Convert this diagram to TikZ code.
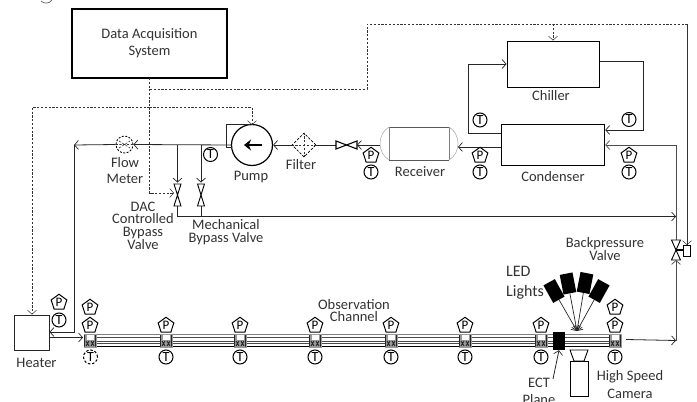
\documentclass[tikz,border=0pt]{standalone}
\usepackage{fontspec}
\setmainfont{Carlito}
\usetikzlibrary{arrows.meta,shapes.geometric,calc}
\tikzset{
  lbl/.style={inner sep=0pt,font=\fontsize{14.5}{15}\selectfont,text=black!80,align=center},
  box/.style={draw,line width=1pt,inner sep=0pt},
  pipe/.style={draw=black!85,line width=.8pt},
  flow/.style={pipe,-{Straight Barb[length=4pt,width=9pt,line width=.7pt]}},
  sig/.style={draw=black!80,line width=.6pt,dash pattern=on 2.2pt off 1.6pt},
  sigflow/.style={sig,-{Straight Barb[length=4pt,width=9pt,line width=.5pt,sep=0pt]}},
  tsens/.style={circle,draw,line width=1pt,inner sep=0pt,minimum size=14pt,font=\fontsize{14}{14}\selectfont},
  psens/.style={regular polygon,regular polygon sides=5,draw,line width=1pt,inner sep=0pt,minimum size=16.5pt,font=\fontsize{13}{13}\selectfont},
  valvepart/.style={draw,line width=.9pt,fill=white},
  led/.style={fill=black,rectangle,inner sep=0pt,minimum width=13pt,minimum height=20pt},
}
\begin{document}
\begin{tikzpicture}[x=1pt,y=-1pt]
\clip (0,0) rectangle (697,402);
\fill[white] (0,0) rectangle (697,402);
% stray descender at the top edge
\draw[black!70,line width=.6pt] (41,1) .. controls (44,4) and (49,4) .. (52,0);
% --- coordinates
\coordinate (daqS) at (149.5,78);
\coordinate (a1) at (149.5,89);
\coordinate (a2) at (367,89);
\coordinate (a3) at (367,24);
\coordinate (a4) at (553,24);
\coordinate (a5) at (687,24);
\coordinate (a6) at (687,245);
\coordinate (b1) at (149.5,107.5);
\coordinate (b2) at (252,107.5);
\coordinate (b3) at (252,125);
\coordinate (b4) at (32,107.5);
\coordinate (c1) at (149.5,193);
\coordinate (c2) at (174,193);
% --- boxes
\node[box,line width=1.5pt,minimum width=155pt,minimum height=69pt,align=center,font=\fontsize{14.5}{17}\selectfont,text=black!80] (daq) at (149.5,43.5) {Data Acquisition\\System};
\node[box,minimum width=92pt,minimum height=46pt] (chiller) at (553,64) {};
\node[box,minimum width=103.5pt,minimum height=41pt] (cond) at (553,144.5) {};
\node[box,draw=black!85,minimum width=35pt,minimum height=35pt] (heater) at (31.5,332.5) {};
\node[circle,draw,line width=1.2pt,minimum size=41pt,inner sep=0pt] (pump) at (252,145) {};
\node[circle,draw,dash pattern=on 2pt off 1.5pt,line width=.8pt,minimum size=17pt,inner sep=0pt] (fm) at (124.5,144.5) {};
\node[diamond,draw,dash pattern=on 2.5pt off 1.5pt,line width=.8pt,minimum size=24pt,inner sep=0pt] (filter) at (304,145) {};
% --- signal lines
\draw[sig] (daqS) -- (a1) -- (a2) -- (a3) -- (a4) -- (a5) -- (a6);
\draw[sigflow] (a5) -- (a6);
\draw[sigflow] (a4) -- (chiller.north -| a4);
\draw[sig] (a1) -- (b1);
\draw[sigflow] (b1) -- (b2) -- (b3);
\draw[sigflow] (b1) -- (b4) -- (heater.north -| b4);
\draw[sigflow] (b1) -- (c1) -- (c2);
% --- flow meter and filter internals
\draw[sig] (fm.west) -- (fm.east) (119,141) -- (130,148) (119,148) -- (130,141);
\draw[sig] (filter.north) -- (filter.south) (filter.west) -- (filter.east);
% --- main loop
\coordinate (m1) at (74,145);
\coordinate (m2) at (74,332);
\draw[flow] (pump.west) -- (fm.east);
\draw[flow] (fm.west) -- (m1);
\draw[flow] (m1) -- (m2) -- (heater.east |- m2);
\coordinate (ch0) at (83,337.5);
\draw[flow] (heater.east |- ch0) -- (ch0);
\draw[pipe] (232,147) -- (226,147) -- (226,124) -- (250,124);
\draw[flow] (filter.west) -- (pump.east);
\draw[-{Stealth[length=7pt,width=11pt]},line width=1.8pt] (262,145) -- (244,145);
% receiver and its valve
\coordinate (rvL) at (336,145);
\coordinate (rvR) at (357,145);
\coordinate (rc) at (346.5,145);
\draw[pipe] (filter.east) -- (rvL);
\draw[valvepart,line width=1.1pt] (336,141) -- (336,149) -- (rc) -- cycle;
\draw[valvepart,line width=1.1pt] (357,141) -- (357,149) -- (rc) -- cycle;
\draw[draw=black!65,line width=.7pt] (389,127) -- (449,127) (389,160) -- (449,160);
\draw[draw=black!50,line width=.8pt] (389,127) -- (389,160) (449,127) -- (449,160);
\draw[draw=black!35,line width=.5pt] (389,127) .. controls (377,134) and (377,153) .. (389,160);
\draw[draw=black!35,line width=.5pt] (449,127) .. controls (461,134) and (461,153) .. (449,160);
\coordinate (recL) at (380,145);
\coordinate (recR) at (458,147);
\draw[flow,line width=1pt] (recL) -- (rvR);
\draw[flow] (cond.west |- recR) -- (recR);
% chiller circuit
\coordinate (cw) at (468.5,133);
\coordinate (cwt) at (468.5,64);
\draw[flow] (cond.west |- cw) -- (cw) -- (cwt) -- (chiller.west |- cwt);
\coordinate (ce) at (643,61);
\coordinate (ceb) at (643,130);
\draw[flow] (chiller.east |- ce) -- (ce) -- (ceb) -- (cond.east |- ceb);
% condenser feed, backpressure valve
\coordinate (f1) at (676,145);
\coordinate (bvT) at (676,240);
\coordinate (bvC) at (676,250);
\coordinate (bvB) at (676,260);
\coordinate (f3) at (676,340.5);
\draw[flow,draw=black!70,line width=1pt] (f1) -- (cond.east |- f1);
\draw[draw=black!70,line width=1pt] (f1) -- (bvT);
\draw[valvepart] (671.5,240) -- (680.5,240) -- (bvC) -- cycle;
\draw[valvepart] (671.5,260) -- (680.5,260) -- (bvC) -- cycle;
\draw[flow,draw=black!70,line width=1pt] (f3) -- (bvB);
\draw[line width=1.3pt] (bvC) -- (684,250);
\node[draw,line width=.8pt,minimum width=6.5pt,minimum height=11pt,inner sep=0pt,fill=white] (act) at (687,250.5) {};
\coordinate (o1) at (626,339.5);
\draw[flow] (o1) -- (f3);
% bypass
\coordinate (v1T) at (177.5,145);
\coordinate (v1B) at (177.5,216.5);
\coordinate (v2T) at (201,145);
\coordinate (v2B) at (201,216.5);
\coordinate (ret) at (676,216.5);
\draw[flow] (v1T) -- (177.5,182.5);
\draw[flow] (v2T) -- (201,182.5);
\foreach \v in {177.5,201}{
  \draw[valvepart] (\v-3.5,184) -- (\v+3.5,184) -- (\v,195) -- cycle;
  \draw[valvepart] (\v-3.5,206) -- (\v+3.5,206) -- (\v,195) -- cycle;
}
\draw[pipe] (177.5,206) -- (v1B);
\draw[pipe] (201,206) -- (v2B);
\draw[flow] (v1B) -- (ret);
% --- channel
\foreach \yy/\cc in {334/black!50,337/black!70,341/black!70,343.5/black!70}{
  \draw[\cc,line width=.7pt] (84,\yy) -- (620,\yy);
}
\draw[black,line width=1pt] (84,346) -- (620,346);
\foreach \x/\n in {90/1,166/2,240/3,315/4,391/5,465/6,541/7,615/8}{
  \fill[black!40] (\x-6.5,333.5) rectangle (\x+6.5,347.5);
  \fill[white] (\x-3.5,335) rectangle (\x+3.5,339.5);
  \draw[black!85,line width=.9pt] (\x-4,341) -- (\x-1,346) (\x-1,341) -- (\x-4,346)
    (\x+1,341) -- (\x+4,346) (\x+4,341) -- (\x+1,346)
    (\x-5.5,335) -- (\x-5.5,346.5) (\x+5.5,335) -- (\x+5.5,346.5);
  \node[psens] (p\n) at (\x,325.5) {P};
  \ifnum\n=1
    \node[tsens,dash pattern=on 2.5pt off 1.8pt] (t\n) at (\x+.5,357) {T};
  \else
    \node[tsens] (t\n) at (\x,357) {T};
  \fi
}
\node[psens] (p1b) at (90,307.5) {P};
\node[psens] (p8b) at (615,307.5) {P};
\node[psens] (pheat) at (59,302.5) {P};
\node[tsens] (theat) at (59,320) {T};
% --- other sensors
\node[tsens] (tpump) at (210.5,154.5) {T};
\node[tsens] (tcl) at (480,120) {T};
\node[tsens] (tcr) at (629,119.5) {T};
\node[psens] (prec) at (371,155.5) {P};
\node[tsens] (trec) at (371,172) {T};
\node[psens] (pcl) at (480,155.5) {P};
\node[tsens] (tcl2) at (480,172) {T};
\node[psens] (pcr) at (629,155.5) {P};
\node[tsens] (tcr2) at (629,172) {T};
% --- ECT, camera
\node[fill=black,minimum width=12pt,minimum height=18pt,inner sep=0pt] (ect) at (559,341) {};
\coordinate (ectt) at (553,379);
\draw[flow] (ectt) -- (ect.south);
\draw[line width=.9pt] (570,350) -- (588,350) -- (584,361) -- (574,361) -- cycle;
\node[draw,line width=.9pt,minimum width=18pt,minimum height=35pt,inner sep=0pt] (cam) at (579,378.5) {};
% --- LEDs
\coordinate (foc) at (577,331);
\node[led,rotate=29] (l1) at (554,291) {};
\node[led,rotate=11] (l2) at (568,283.5) {};
\node[led,rotate=-11] (l3) at (585,283) {};
\node[led,rotate=-29] (l4) at (599,291) {};
\foreach \n in {1,2,3,4}{\draw[flow,line width=.7pt] (l\n) -- (foc);}
% --- labels
\node[lbl,font=\fontsize{14.5}{15.5}\selectfont] (tflow) at (125,170.5) {Flow\\Meter};
\node[lbl] (tfilter) at (301,165) {Filter};
\node[lbl] (tpumpl) at (251,177) {Pump};
\node[lbl] (trecv) at (420,172) {Receiver};
\node[lbl] (tcond) at (553,177) {Condenser};
\node[lbl] (tchil) at (551,96) {Chiller};
\node[lbl,font=\fontsize{14.5}{12.6}\selectfont] (tdac) at (143,225.5) {DAC\\Controlled\\Bypass\\Valve};
\node[lbl,font=\fontsize{14.5}{12.6}\selectfont] (tmech) at (226,232) {Mechanical\\Bypass Valve};
\node[lbl,font=\fontsize{14.5}{12}\selectfont] (tobs) at (354,311) {Observation\\Channel};
\node[lbl,font=\fontsize{14.5}{12.6}\selectfont] (tback) at (605,249) {Backpressure\\Valve};
\node[lbl,anchor=west,font=\fontsize{16}{20}\selectfont,align=left] (tled) at (506,283) {LED\\Lights};
\node[lbl,font=\fontsize{14.5}{18}\selectfont] (tcam) at (630,384.5) {High Speed\\Camera};
\node[lbl] (thtr) at (36.5,362.5) {Heater};
\node[lbl,font=\fontsize{14.5}{17}\selectfont] (tect) at (539,391.5) {ECT\\Plane};
\end{tikzpicture}
\end{document}
